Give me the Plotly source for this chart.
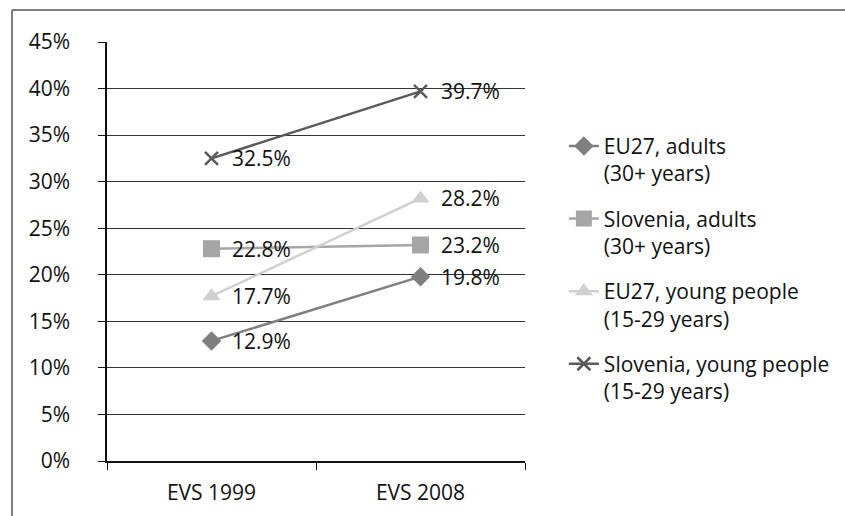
import plotly.graph_objects as go

categories = ["EVS 1999", "EVS 2008"]
series_names = ["EU27, adults<br>(30+ years)", "Slovenia, adults<br>(30+ years)",
                "EU27, young people<br>(15-29 years)", "Slovenia, young people<br>(15-29 years)"]
eu27_adults = [12.9, 19.8]
slovenia_adults = [22.8, 23.2]
eu27_young = [17.7, 28.2]
slovenia_young = [32.5, 39.7]
y_ticks = [0, 5, 10, 15, 20, 25, 30, 35, 40, 45]

FONT = "Open Sans"
FS = 21
TXT = "#111"

styles = [
    dict(color="#7f7f7f", symbol="diamond", size=15),
    dict(color="#a6a6a6", symbol="square", size=17),
    dict(color="#d0d0d0", symbol="triangle-up", size=16),
    dict(color="#5a5a5a", symbol="x-thin", size=13),
]
all_values = [eu27_adults, slovenia_adults, eu27_young, slovenia_young]

fig = go.Figure()
annotations = []
for i, (name, vals, st) in enumerate(zip(series_names, all_values, styles)):
    marker = dict(symbol=st["symbol"], size=st["size"], color=st["color"])
    if st["symbol"] == "x-thin":
        marker["line"] = dict(color=st["color"], width=2.5)
    fig.add_trace(go.Scatter(
        x=categories, y=vals, name=name, mode="lines+markers",
        line=dict(color=st["color"], width=2.5),
        marker=marker, legendgroup=f"g{i}",
    ))
    for c, v in zip(categories, vals):
        annotations.append(dict(
            x=c, y=v, text=f"{v:.1f}%", showarrow=False, xanchor="left",
            yanchor="middle", xshift=18, font=dict(family=FONT, size=FS, color=TXT),
        ))

border = dict(color="#555", width=1.5)
fig.update_layout(
    width=845, height=516,
    margin=dict(l=107, r=320, t=42, b=55, autoexpand=False),
    paper_bgcolor="white", plot_bgcolor="white",
    font=dict(family=FONT, size=FS, color=TXT),
    showlegend=True,
    legend=dict(x=1.093, y=0.80, xanchor="left", yanchor="top", valign="top",
                traceorder="grouped", tracegroupgap=15,
                font=dict(family=FONT, size=FS, color=TXT),
                bgcolor="rgba(0,0,0,0)"),
    annotations=annotations,
    shapes=[
        dict(type="line", xref="paper", yref="paper", x0=-0.2273, x1=1.9,
             y0=1.0764, y1=1.0764, line=border, layer="below"),
        dict(type="line", xref="paper", yref="paper", x0=-0.2273, x1=-0.2273,
             y0=-0.2, y1=1.0764, line=border, layer="below"),
    ],
)
fig.update_xaxes(type="category", range=[-0.5, 1.5], showgrid=False,
                 showline=True, linecolor="#111", linewidth=1.5,
                 ticks="outside", ticklen=7, tickcolor="#111", tickson="boundaries",
                 ticklabelstandoff=12,
                 tickfont=dict(family=FONT, size=FS, color=TXT))
fig.update_yaxes(range=[0, 45], tickvals=y_ticks, ticktext=[f"{t}%" for t in y_ticks],
                 showgrid=True, gridcolor="#333", gridwidth=1.3,
                 showline=True, linecolor="#111", linewidth=1.5,
                 ticks="outside", ticklen=7, tickcolor="#111",
                 ticklabelstandoff=24, zeroline=False,
                 tickfont=dict(family=FONT, size=FS, color=TXT))

fig.write_html("out.html", config={"displayModeBar": False},
               post_script="document.body.style.margin='0';document.body.style.overflow='hidden';")
